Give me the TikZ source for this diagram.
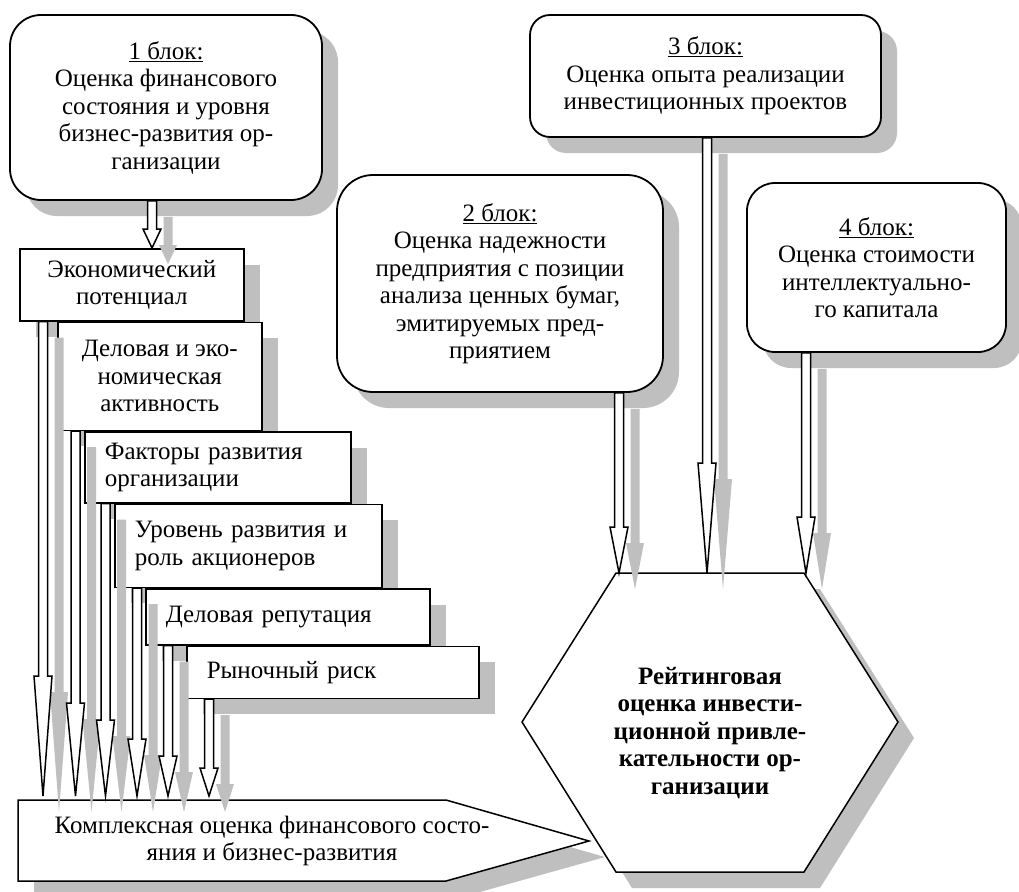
\documentclass[tikz,border=0pt]{standalone}
\usepackage{fontspec}
\setmainfont{Liberation Serif}
\usetikzlibrary{calc,shadows,positioning}

\newcommand{\blockfont}{\fontsize{25}{27.5}\selectfont}

\tikzset{
  gshadow/.style={drop shadow={shadow xshift=16pt, shadow yshift=-16pt,
      fill=black!25, opacity=1}},
  block/.style={draw, line width=1.8pt, fill=white, gshadow, align=center,
      inner sep=0pt, font=\blockfont},
  factor/.style={draw, line width=1.5pt, fill=white, gshadow, anchor=north west,
      inner ysep=0pt, inner xsep=20pt, font=\blockfont},
  hollow/.style={draw, line width=1.5pt, fill=white, gshadow},
}

% hollow block arrow: start, target (tip at start |- target), head length
\newcommand{\hollowarrow}[3]{%
  \draw[hollow] ($(#1)+(-\shaft,0)$) -- ($(#1 |- #2)+(-\shaft,-#3)$)
    -- ($(#1 |- #2)+(-\head,-#3)$) -- (#1 |- #2)
    -- ($(#1 |- #2)+(\head,-#3)$) -- ($(#1 |- #2)+(\shaft,-#3)$)
    -- ($(#1)+(\shaft,0)$) -- cycle;}

\begin{document}
\begin{tikzpicture}[x=1pt,y=-1pt]

    \def\shaft{4.5}
    \def\head{9}

    \useasboundingbox (0,0) rectangle (1019,891);

    % block 1 and its factors
    \node[block, rounded corners=31pt, minimum width=312pt, minimum height=185pt]
        (b1) at (166,107.5)
        {\underline{1 блок:}\\ Оценка финансового\\ состояния и уровня\\
         бизнес-развития ор-\\ ганизации};

    \node[factor, align=center, minimum width=224pt, minimum height=72pt]
        (econ) at (19,248) {Экономический\\ потенциал};
    \node[factor, align=center, minimum width=204pt, minimum height=108pt]
        (activ) at ([xshift=38pt]econ.south west) {Деловая и эко-\\ номическая\\ активность};
    \node[factor, align=left, text width=226pt, minimum height=71pt]
        (factors) at ([xshift=27pt]activ.south west) {Факторы развития\\ организации};
    \node[factor, align=left, text width=227pt, minimum height=83pt]
        (level) at ([xshift=30pt]factors.south west) {Уровень развития и\\ роль акционеров};
    \node[factor, align=left, text width=244pt, minimum height=56pt]
        (reput) at ([xshift=31pt]level.south west) {Деловая репутация};
    \node[factor, align=left, text width=252pt, minimum height=52pt]
        (risk) at ([xshift=41pt]reput.south west) {Рыночный риск};

    % summary of block 1
    \draw[hollow, line width=1.5pt] (18,800) -- (446,800) -- (589,841)
        -- (446,881) -- (18,881) -- cycle;
    \node[align=center, font=\blockfont] (sum) at (272,841)
        {Комплексная оценка финансового состо-\\ яния и бизнес-развития};
    \coordinate (sumtop) at (18,796);

    % blocks 2, 3, 4
    \node[block, rounded corners=36pt, minimum width=326pt, minimum height=217pt]
        (b2) at (500,283.5)
        {\underline{2 блок:}\\ Оценка надежности\\ предприятия с позиции\\
         анализа ценных бумаг,\\ эмитируемых пред-\\ приятием};
    \node[block, rounded corners=20pt, minimum width=351pt, minimum height=122pt]
        (b3) at (705.5,76)
        {\underline{3 блок:}\\ Оценка опыта реализации\\ инвестиционных проектов};
    \node[block, rounded corners=28pt, minimum width=259pt, minimum height=169pt]
        (b4) at (876.5,267.5)
        {\underline{4 блок:}\\ Оценка стоимости\\ интеллектуально-\\ го капитала};

    % rating hexagon
    \coordinate (h1) at (522,722);
    \coordinate (h2) at (616,573);
    \coordinate (h3) at (804,573);
    \coordinate (h4) at (898,722);
    \coordinate (h5) at (804,872);
    \coordinate (h6) at (616,872);
    \draw[hollow] (h1) -- (h2) -- (h3) -- (h4) -- (h5) -- (h6) -- cycle;
    \node[align=center, font=\blockfont\bfseries] (rating) at (710,733)
        {Рейтинговая\\ оценка инвести-\\ ционной привле-\\ кательности ор-\\ ганизации};

    % arrow starts
    \coordinate (s0) at ([xshift=-14pt]b1.south);
    \coordinate (s1) at ([xshift=24pt]econ.south west);
    \coordinate (s2) at ([xshift=18.5pt]activ.south west);
    \coordinate (s3) at ([xshift=21.5pt]factors.south west);
    \coordinate (s4) at ([xshift=23pt]level.south west);
    \coordinate (s5) at ([xshift=23pt]reput.south west);
    \coordinate (s6) at ([xshift=23pt]risk.south west);
    \coordinate (r2) at ([xshift=119pt]b2.south);
    \coordinate (r3) at ([xshift=1.5pt]b3.south);
    \coordinate (r4) at ([xshift=-70.5pt]b4.south);

    % arrows
    \hollowarrow{s0}{econ.north}{19}
    \hollowarrow{s1}{sumtop}{120}
    \hollowarrow{s2}{sumtop}{93}
    \hollowarrow{s3}{sumtop}{76}
    \hollowarrow{s4}{sumtop}{57}
    \hollowarrow{s5}{sumtop}{40}
    \hollowarrow{s6}{sumtop}{28}
    \hollowarrow{r2}{h2}{46}
    \hollowarrow{r3}{h2}{110}
    \hollowarrow{r4}{h2}{56}

\end{tikzpicture}
\end{document}
